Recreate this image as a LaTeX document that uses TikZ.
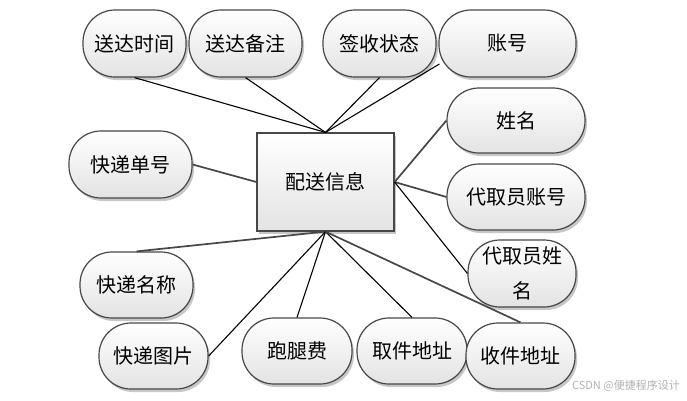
\documentclass[tikz,border=0pt]{standalone}
\usepackage{fontspec}
\setmainfont{Noto Sans CJK SC}
\usetikzlibrary{shadows,calc}
\begin{document}
\begin{tikzpicture}[x=1pt,y=-1pt,
  attr/.style={draw=black!72, line width=1.2pt, rounded corners=32pt,
    top color=white, bottom color=black!11,
    drop shadow={shadow xshift=2pt, shadow yshift=-3pt, opacity=0.22, fill=black},
    inner sep=0pt, font=\fontsize{20}{24}\selectfont, align=center},
  entity/.style={draw=black!72, line width=1.2pt,
    top color=white, bottom color=black!11,
    drop shadow={shadow xshift=2pt, shadow yshift=-3pt, opacity=0.22, fill=black},
    inner sep=0pt, font=\fontsize{20}{24}\selectfont},
  thin/.style={line width=1.1pt, draw=black},
  thick/.style={line width=1.7pt, draw=black!72}]
\useasboundingbox (0,0) rectangle (687,400);
\fill[white] (0,0) rectangle (687,400);

\node[entity, minimum width=137pt, minimum height=98pt] (main) at (325.5,182) {配送信息};

\node[attr, minimum width=103pt, minimum height=67pt] (sdsj) at (134.5,43.5) {送达时间};
\node[attr, minimum width=113pt, minimum height=67pt] (sdbz) at (245.5,43.5) {送达备注};
\node[attr, minimum width=113pt, minimum height=67pt] (qszt) at (379.5,43.5) {签收状态};
\node[attr, minimum width=137pt, minimum height=67pt] (zh) at (507.5,43.5) {账号};
\node[attr, minimum width=138pt, minimum height=65pt] (xm) at (516,120.5) {姓名};
\node[attr, minimum width=123pt, minimum height=67pt] (kddh) at (130.5,164.5) {快递单号};
\node[attr, minimum width=138pt, minimum height=66pt] (dqyzh) at (516,197) {代取员账号};
\node[attr, minimum width=108pt, minimum height=67pt, font=\fontsize{20}{35}\selectfont] (dqyxm) at (522,273.5) {代取员姓\\名};
\node[attr, minimum width=113pt, minimum height=66pt] (kdmc) at (136.5,285) {快递名称};
\node[attr, minimum width=109pt, minimum height=66pt] (kdtp) at (153.5,356) {快递图片};
\node[attr, minimum width=110pt, minimum height=66pt] (ptf) at (297,351) {跑腿费};
\node[attr, minimum width=110pt, minimum height=66pt] (qjdz) at (412,351) {取件地址};
\node[attr, minimum width=109pt, minimum height=66pt] (sjdz) at (520.5,356) {收件地址};

\draw[thin] (sdsj.south) -- (main.north);
\draw[thin] (sdbz.south) -- (main.north);
\draw[thin] (qszt.south) -- (main.north);
\draw[thin] ($(zh.west)+(1,20.5)$) -- (main.north);
\draw[thick] (kddh.east) -- (main.west);
\draw[thick] (xm.west) -- (main.east);
\draw[thick] (dqyzh.west) -- (main.east);
\draw[thin] (dqyxm.west) -- (main.east);
\draw[thick] (kdmc.north) -- (main.south);
\draw[thin] (kdtp.east) -- (main.south);
\draw[thin] (ptf.north) -- (main.south);
\draw[thin] (qjdz.north) -- (main.south);
\draw[thick] (sjdz.north) -- (main.south);

\node[text=black!30, font=\fontsize{11}{13}\selectfont, anchor=east, inner sep=0pt] (wm) at (680,386) {CSDN @便捷程序设计};
\end{tikzpicture}
\end{document}
